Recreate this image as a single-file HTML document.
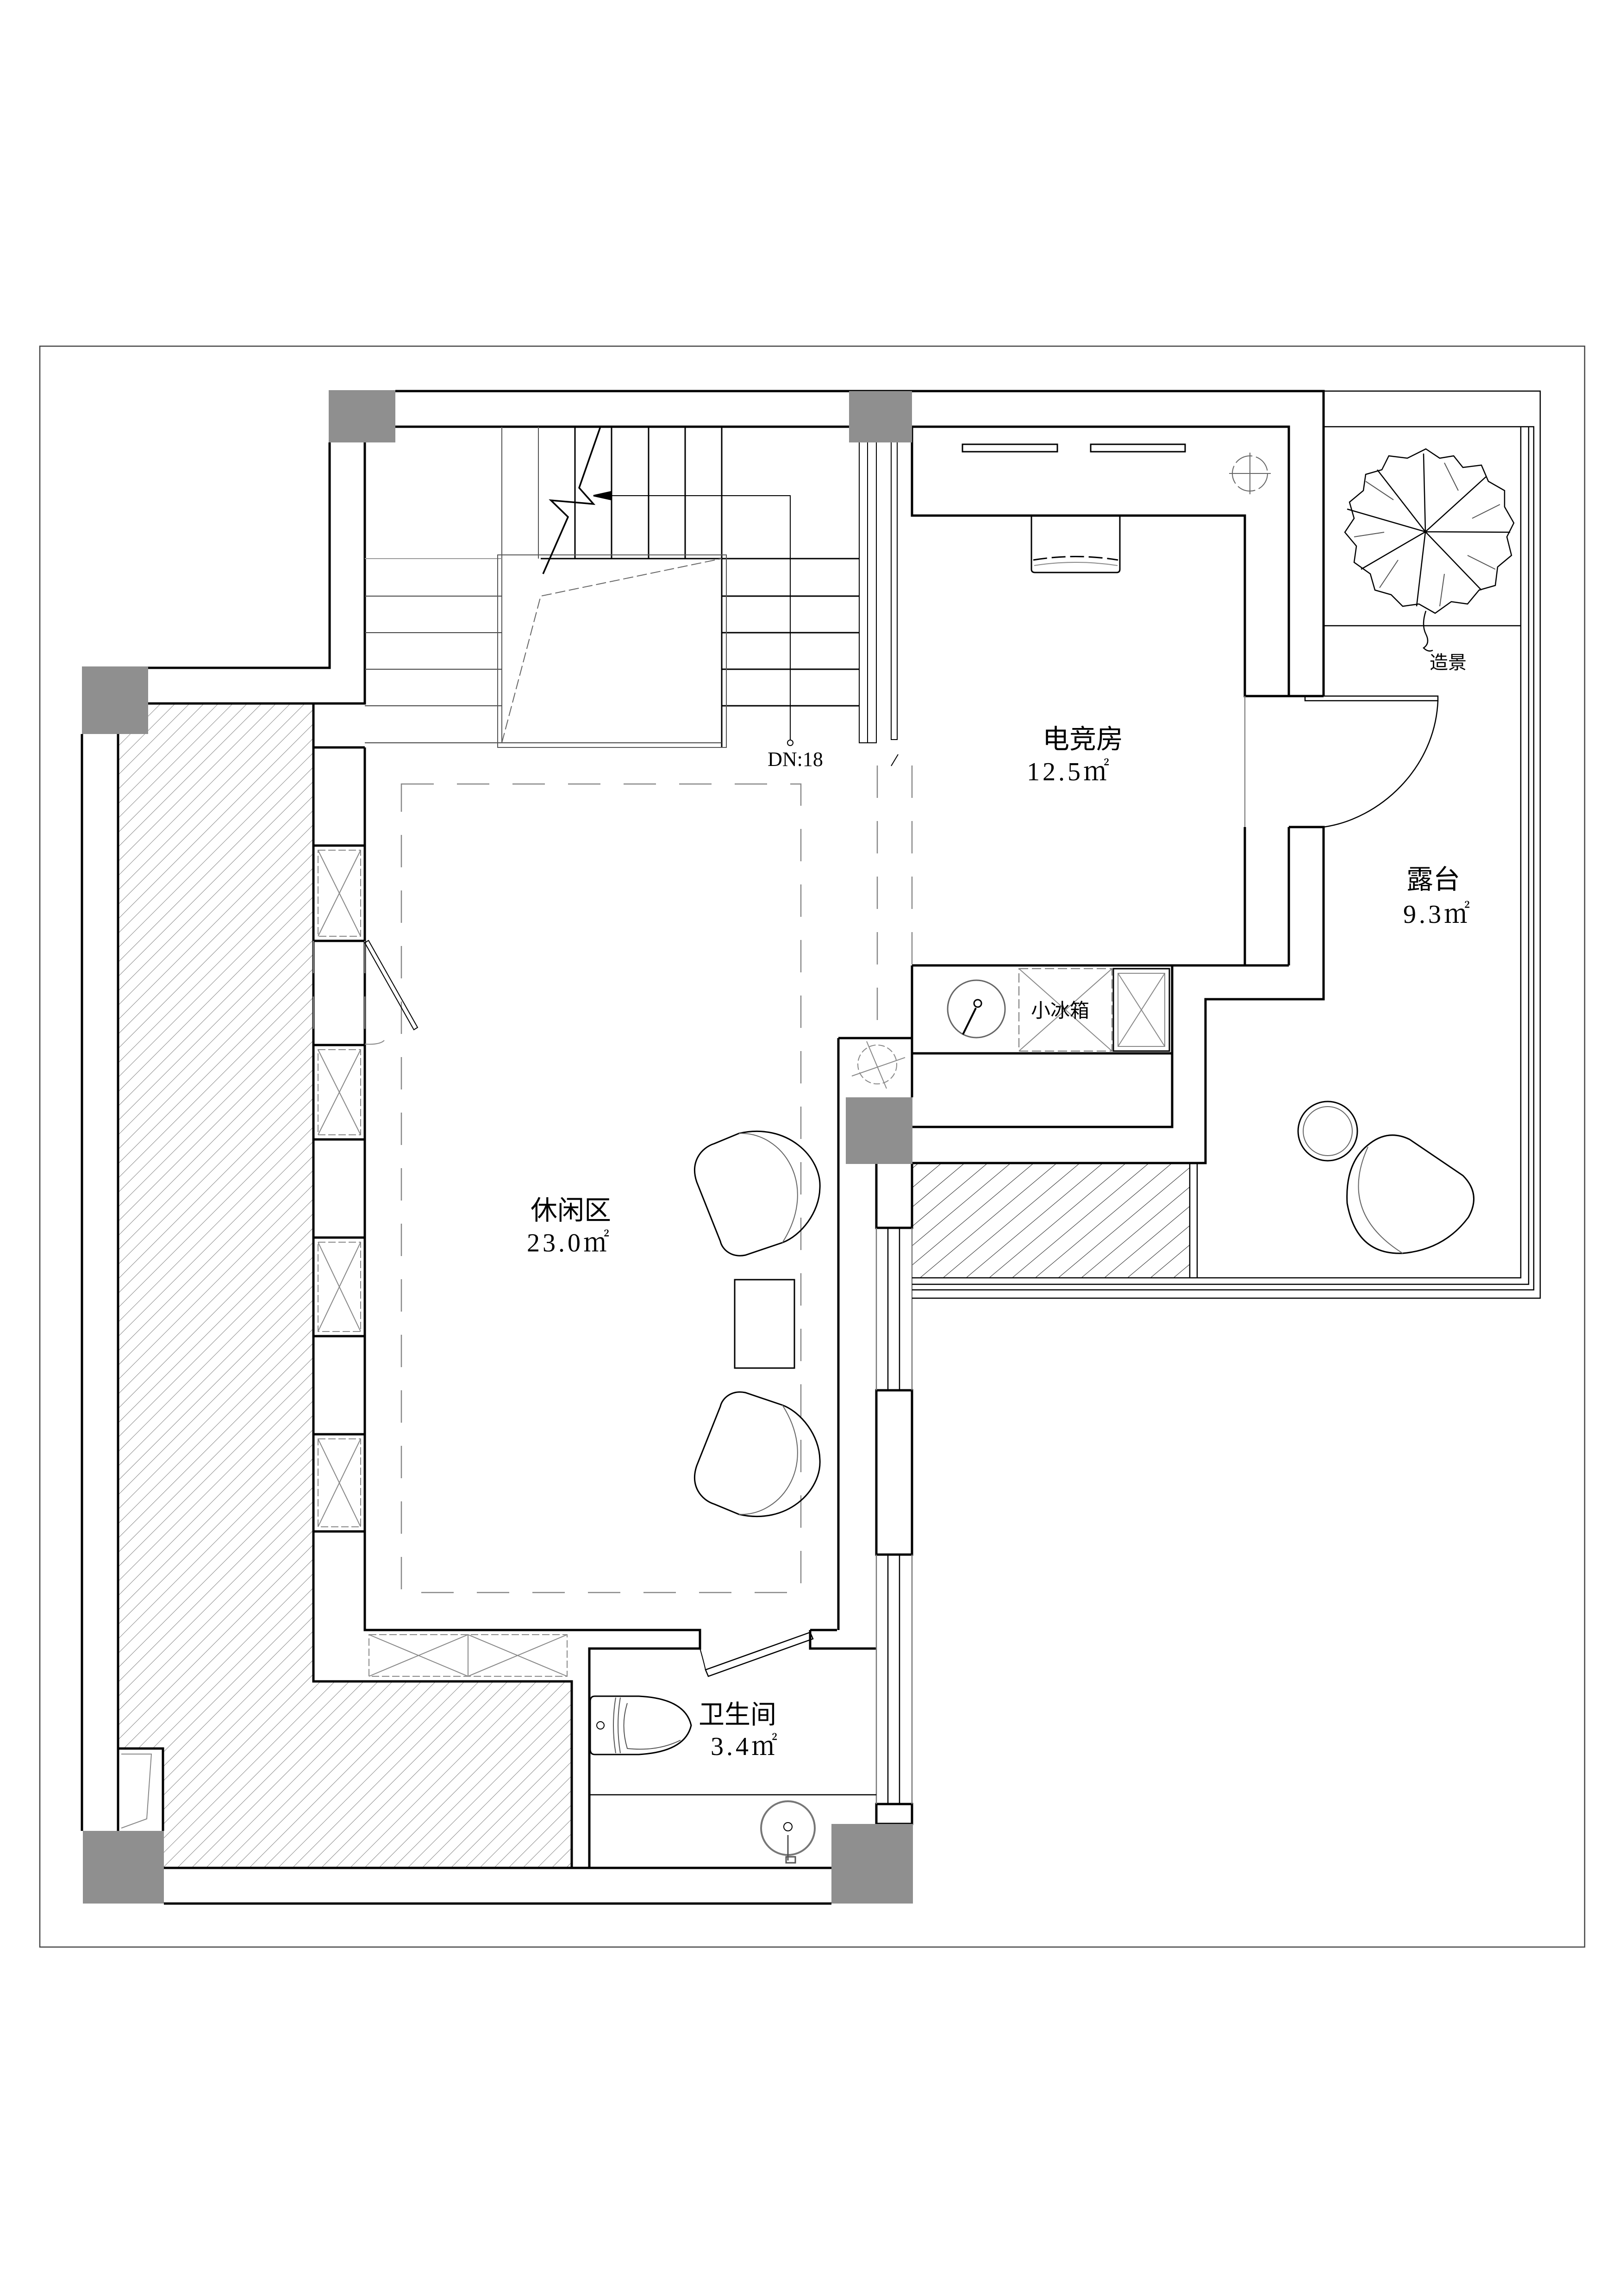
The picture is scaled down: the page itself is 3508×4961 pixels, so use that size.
<!DOCTYPE html>
<html><head><meta charset="utf-8"><style>html,body{margin:0;padding:0;background:#fff}svg{display:block}</style></head>
<body>
<svg width="3508" height="4961" viewBox="0 0 3508 4961" xmlns="http://www.w3.org/2000/svg">
<defs>
<pattern id="h" width="22" height="22" patternUnits="userSpaceOnUse" patternTransform="rotate(45)">
<line x1="0" y1="0" x2="0" y2="22" stroke="#888" stroke-width="2"/></pattern>
<pattern id="h2" width="32" height="32" patternUnits="userSpaceOnUse" patternTransform="rotate(50)">
<line x1="0" y1="0" x2="0" y2="32" stroke="#222" stroke-width="2"/></pattern>
</defs>
<rect width="3508" height="4961" fill="#fff"/>
<rect x="86" y="748" width="3337" height="3459" fill="none" stroke="#444" stroke-width="2.5"/>
<!-- hatches -->
<path d="M255 1520 H678 V3633 H1235 V4036 H354 V3956 H352 V3778 H255 Z" fill="url(#h)"/>
<rect x="1970" y="2513" width="600" height="248" fill="url(#h2)"/>
<g fill="none" stroke="#000" stroke-width="5">
<!-- top walls -->
<path d="M854 845 H2859 V1504 M788 922 H1834 M1970 922 H2784 V1504"/>
<path d="M1970 922 V1114 H2689 V1504 H2859"/>
<!-- right of esports below door -->
<path d="M2689 1787 V2086 M2784 1787 V2086 M2784 1787 H2859 V2159 H2604 V2513 H1970"/>
<path d="M1970 2086 H2784 M1970 2086 V2276 H2532 M2532 2086 V2435 H1970"/>
<!-- stair walls -->
<path d="M712 956 V1443 H320 M788 956 V1520 H255 M177 1586 V3956 M255 1586 V3956"/>
<path d="M677 1520 V3633 H1235 V4036 M788 1615 V3522 H1235 M677 1615 H788"/>
<path d="M677 1827 H788 V2033 H677 M677 2258 H788 V2462 H677 M677 2674 H788 V2887 H677 M677 3099 H788 V3309 H677"/>
<!-- bathroom -->
<path d="M1235 3522 H1512 V3562 H1273 V4036 M1750 3522 V3562 H1893 M1750 3522 H1808"/>
<path d="M1811 2243 V3522 M1811 2243 H1970 V2371"/>
<path d="M1893 2515 V2653 H1970 V2515"/>
<rect x="1893" y="3004" width="77" height="355"/>
<rect x="1893" y="3898" width="77" height="43"/>
<path d="M354 4036 H1796 M354 4113 H1796"/>
<path d="M255 3778 H352 V3956"/>
</g>
<g fill="none" stroke="#000" stroke-width="2.5">
<path d="M1918 2653 V3004 M1943 2653 V3004 M1918 3359 V3898 M1943 3359 V3898" />
<path d="M1893 2653 V3004 M1970 2653 V3004 M1893 3359 V3898 M1970 3359 V3898" stroke="#777"/>
<path d="M1893 3941 V4036 M1273 3878 H1893"/>
<!-- terrace -->
<path d="M2859 845 H3327 V2805 H1970 M2859 922 H3313 V2787 H1970 M3302 922 V2775 H1970 M3285 922 V2761 H1970 M2859 1352 H3285 M2859 1787 V2159"/>
<path d="M2570 2513 V2761 M2586 2513 V2761"/>
<!-- door esports -->
<rect x="2819" y="1504" width="287" height="10"/>
<path d="M3106 1514 C3100 1660 2980 1770 2859 1787"/>
<path d="M2689 1504 V1787" stroke="#888"/>
</g>
<!-- columns -->
<g fill="#8f8f8f">
<rect x="710" y="843" width="144" height="113"/><rect x="1834" y="845" width="136" height="111"/>
<rect x="177" y="1440" width="143" height="146"/><rect x="179" y="3956" width="175" height="157"/>
<rect x="1796" y="3941" width="176" height="172"/><rect x="1827" y="2371" width="144" height="144"/>
</g>
<!-- stair -->
<g fill="none" stroke="#000" stroke-width="3">
<path d="M1242 922 V1207 M1321 922 V1207 M1401 922 V1207 M1480 922 V1207 M1559 922 V1615"/>
<path d="M1084 922 V1605 M1163 922 V1207" stroke="#555" stroke-width="2"/>
<path d="M788 1288 H1084 M788 1367 H1084 M788 1446 H1084 M788 1525 H1084 M788 1605 H1559" stroke="#444" stroke-width="2"/>
<path d="M788 1207 H1084" stroke="#999" stroke-width="2"/>
<path d="M1559 1207 H1856 M1559 1288 H1856 M1559 1367 H1856 M1559 1446 H1856 M1559 1525 H1856"/>
<path d="M1168 1207 H1559"/>
<rect x="1075" y="1199" width="494" height="416" stroke="#555" stroke-width="2"/>
<path d="M1297 922 L1251 1054 L1282 1089 L1190 1081 L1227 1117 L1173 1240" stroke-width="3.5"/>
<path d="M1084 1605 L1168 1288 L1559 1207" stroke="#666" stroke-width="2" stroke-dasharray="22,8"/>
<path d="M1300 1071 H1707 V1600" stroke-width="2"/>
<path d="M1282 1071 L1318 1063 L1318 1079 Z" fill="#000"/>
<circle cx="1707" cy="1605" r="6" stroke-width="2"/>
<path d="M1856 956 V1605 H1893 V956 M1874 956 V1605 M1925 956 V1598 H1938 V956" stroke-width="2"/>
<path d="M1925 1655 L1940 1630" stroke-width="2"/>
</g>
<!-- dashed rug and dashed door lines -->
<rect x="867" y="1694" width="863" height="1747" fill="none" stroke="#888" stroke-width="2.5" stroke-dasharray="70,50"/>
<path d="M1895 1654 V2229 M1970 1654 V2086 M788 2033 V2258 M677 2033 V2258" stroke="#888" stroke-width="2.5" stroke-dasharray="70,50"/>
<g fill="none" stroke="#000" stroke-width="3">
<!-- esports furniture -->
<rect x="2079" y="960" width="205" height="16"/><rect x="2356" y="960" width="204" height="16"/>
<path d="M2228 1114 V1230 Q2228 1237 2236 1237 H2412 Q2419 1237 2419 1230 V1114"/>
<path d="M2232 1210 Q2324 1195 2415 1210" stroke-dasharray="30,10"/>
<path d="M2234 1222 Q2324 1208 2414 1222" stroke="#888" stroke-width="2"/>
<circle cx="2700" cy="1023" r="38" stroke="#666" stroke-width="2" stroke-dasharray="40,8"/>
<path d="M2655 1023 H2745 M2700 978 V1068" stroke="#666" stroke-width="2"/>
<!-- fridge area -->
<rect x="2201" y="2093" width="201" height="178" stroke="#777" stroke-width="2" stroke-dasharray="20,8"/>
<path d="M2201 2093 L2402 2271 M2402 2093 L2201 2271" stroke="#888" stroke-width="2"/>
<rect x="2405" y="2093" width="121" height="178"/>
<rect x="2415" y="2103" width="101" height="158" stroke="#888" stroke-width="2"/>
<path d="M2415 2103 L2516 2261 M2516 2103 L2415 2261" stroke="#888" stroke-width="2"/>
<circle cx="2109" cy="2180" r="62" stroke="#666"/><circle cx="2112" cy="2168" r="8"/>
<path d="M2108 2178 L2080 2235" stroke-width="4"/>
<circle cx="1895" cy="2300" r="42" stroke="#888" stroke-width="2" stroke-dasharray="14,6"/>
<path d="M1840 2325 L1955 2285 M1872 2250 L1915 2352" stroke="#888" stroke-width="2"/>
<!-- left cabinets -->
<g stroke="#888" stroke-width="2">
<rect x="687" y="1837" width="92" height="186" stroke-dasharray="16,6"/><path d="M687 1837 L779 2023 M779 1837 L687 2023"/>
<rect x="687" y="2268" width="92" height="184" stroke-dasharray="16,6"/><path d="M687 2268 L779 2452 M779 2268 L687 2452"/>
<rect x="687" y="2684" width="92" height="193" stroke-dasharray="16,6"/><path d="M687 2684 L779 2877 M779 2684 L687 2877"/>
<rect x="687" y="3109" width="92" height="190" stroke-dasharray="16,6"/><path d="M687 3109 L779 3299 M779 3109 L687 3299"/>
<rect x="797" y="3532" width="428" height="90" stroke-dasharray="16,6"/>
<path d="M797 3532 L1011 3622 L1225 3532 M797 3622 L1011 3532 L1225 3622 M1011 3532 V3622"/>
<path d="M262 3790 H327 L317 3930 L262 3950"/>
</g>
<path d="M788 2037 L894 2225 L902 2220 L796 2032 Z" stroke-width="2"/>
<path d="M788 2256 Q820 2258 830 2248" stroke="#888" stroke-width="2"/>
<!-- bathroom door -->
<path d="M1750 3527 L1524 3608 L1530 3622 L1756 3541 Z" stroke-width="2.5"/>
<path d="M1512 3562 Q1520 3590 1524 3608" stroke-width="2"/>
<!-- leisure chairs -->
<path d="M1543 2471 L1596 2449 C1700 2425 1775 2500 1771 2567 C1770 2620 1730 2670 1690 2685 L1610 2712 C1580 2718 1560 2700 1556 2682 L1505 2554 C1490 2510 1515 2480 1543 2471 Z"/>
<path d="M1596 2449 C1690 2445 1770 2560 1690 2685" stroke="#666" stroke-width="2"/>
<g transform="translate(0,5721) scale(1,-1)">
<path d="M1543 2471 L1596 2449 C1700 2425 1775 2500 1771 2567 C1770 2620 1730 2670 1690 2685 L1610 2712 C1580 2718 1560 2700 1556 2682 L1505 2554 C1490 2510 1515 2480 1543 2471 Z"/>
<path d="M1596 2449 C1690 2445 1770 2560 1690 2685" stroke="#666" stroke-width="2"/>
</g>
<rect x="1587" y="2765" width="129" height="191"/>
<!-- terrace furniture -->
<circle cx="2868" cy="2444" r="64"/><circle cx="2868" cy="2444" r="53" stroke="#666" stroke-width="2"/>
<path d="M2960 2470 Q3000 2440 3045 2462 L3160 2540 Q3200 2580 3172 2630 Q3120 2700 3030 2708 Q2930 2712 2910 2600 Q2905 2510 2960 2470 Z"/>
<path d="M2955 2478 Q2890 2620 3030 2708" stroke="#666" stroke-width="2"/>
<!-- toilet & sink -->
<path d="M1285 3665 H1380 Q1480 3670 1493 3728 Q1480 3785 1380 3791 H1285 Q1275 3791 1275 3780 V3676 Q1275 3665 1285 3665 Z"/>
<path d="M1330 3668 Q1320 3728 1330 3788 M1340 3668 Q1330 3728 1340 3788 M1355 3680 Q1340 3728 1355 3778 Q1420 3785 1470 3760" stroke="#555" stroke-width="2"/>
<circle cx="1297" cy="3728" r="8" stroke-width="2"/>
<circle cx="1702" cy="3950" r="58" stroke="#777" stroke-width="4"/>
<circle cx="1702" cy="3947" r="9" stroke-width="2"/>
<path d="M1702 3965 V4020 M1698 4012 H1718 V4025 H1698 Z" stroke="#555" stroke-width="3"/>
<!-- tree -->
<g stroke-width="2.5">
<path d="M3080 970 L3110 990 L3140 985 L3160 1010 L3200 1005 L3215 1040 L3250 1060 L3250 1095 L3270 1130 L3255 1160 L3265 1200 L3235 1225 L3230 1265 L3195 1275 L3170 1305 L3135 1300 L3100 1325 L3065 1305 L3030 1310 L3005 1285 L2970 1275 L2960 1240 L2925 1215 L2930 1180 L2905 1150 L2925 1120 L2915 1085 L2945 1060 L2950 1025 L2985 1015 L3000 985 L3040 990 Z"/>
<path d="M3079 1149 L3075 980 M3079 1149 L3210 1030 M3079 1149 L3262 1150 M3079 1149 L3200 1275 M3079 1149 L3060 1310 M3079 1149 L2940 1230 M3079 1149 L2910 1100 M3079 1149 L2975 1015"/>
<path d="M3120 1000 L3150 1060 M3240 1090 L3180 1120 M3230 1230 L3170 1200 M3110 1310 L3120 1240 M2980 1270 L3020 1210 M2925 1160 L2990 1150 M2950 1040 L3010 1080" stroke="#555" stroke-width="2"/>
<path d="M3080 1320 Q3070 1350 3080 1370 Q3090 1390 3075 1400 Q3085 1410 3095 1405" stroke-width="2.5"/>
</g>
</g>
<g font-family="'Liberation Serif','Noto Serif CJK SC','Noto Sans CJK SC',serif" fill="#000">
<text x="2339" y="1617" font-size="58" text-anchor="middle" font-family="'Liberation Sans','Noto Sans CJK SC',sans-serif">电竞房</text>
<text x="2310" y="1686" font-size="56" text-anchor="middle" letter-spacing="6">12.5㎡</text>
<text x="1233" y="2635" font-size="58" text-anchor="middle" font-family="'Liberation Sans','Noto Sans CJK SC',sans-serif">休闲区</text>
<text x="1230" y="2704" font-size="56" text-anchor="middle" letter-spacing="6">23.0㎡</text>
<text x="1593" y="3724" font-size="56" text-anchor="middle" font-family="'Liberation Sans','Noto Sans CJK SC',sans-serif">卫生间</text>
<text x="1610" y="3792" font-size="56" text-anchor="middle" letter-spacing="6">3.4㎡</text>
<text x="3096" y="1920" font-size="58" text-anchor="middle" font-family="'Liberation Sans','Noto Sans CJK SC',sans-serif">露台</text>
<text x="3106" y="1994" font-size="56" text-anchor="middle" letter-spacing="6">9.3㎡</text>
<text x="2290" y="2198" font-size="42" text-anchor="middle" font-family="'Liberation Sans','Noto Sans CJK SC',sans-serif">小冰箱</text>
<text x="3128" y="1445" font-size="40" text-anchor="middle" font-family="'Liberation Sans','Noto Sans CJK SC',sans-serif">造景</text>
<text x="1718" y="1655" font-size="44" text-anchor="middle">DN:18</text>
</g>
</svg>
</body></html>
